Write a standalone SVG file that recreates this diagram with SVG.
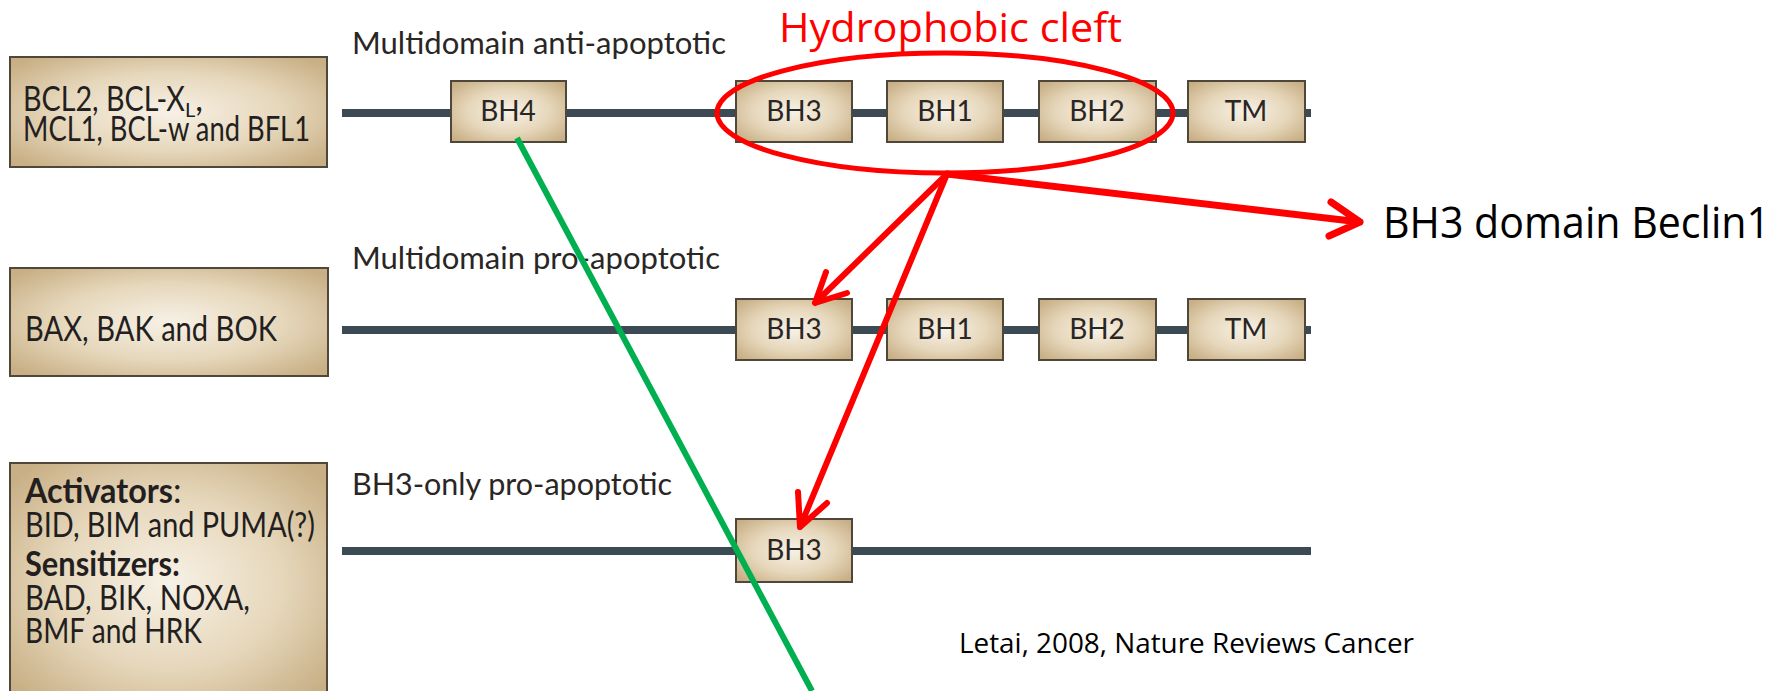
<svg xmlns="http://www.w3.org/2000/svg" width="1790" height="691" viewBox="0 0 1790 691">
<defs>
<radialGradient id="tan" cx="50%" cy="50%" r="65%">
<stop offset="0" stop-color="#f7f1e6"/>
<stop offset="0.55" stop-color="#e6d7bb"/>
<stop offset="1" stop-color="#c8af85"/>
</radialGradient>
</defs>
<style>
.box{fill:url(#tan);stroke:#4f473a;stroke-width:2}
.bb{fill:url(#tan);stroke:#4f473a;stroke-width:2}
.dl{font-family:Lato,"Open Sans",sans-serif;font-size:28px;fill:#2a2624;text-anchor:middle}
.lab{font-family:Lato,"Open Sans",sans-serif;font-size:31px;fill:#2a2624}
.bt{font-family:Lato,"Open Sans",sans-serif;font-size:34px;fill:#231f20}
.chain{stroke:#3c4a54;stroke-width:8;fill:none}
.red{stroke:#ff0000;fill:none;stroke-linecap:round;stroke-linejoin:round}
.cal{font-family:"Open Sans","Noto Sans",sans-serif}
</style>
<rect width="1790" height="691" fill="#ffffff"/>

<g id="row1">
<line class="chain" x1="342" y1="113" x2="1311" y2="113"/>
<text class="lab" x="352" y="54" textLength="374" lengthAdjust="spacingAndGlyphs">Multidomain anti-apoptotic</text>
<g id="r1-bcl2"><rect class="bb" x="10" y="57" width="317" height="110"/>
<text class="bt" x="23" y="111"><tspan textLength="162" lengthAdjust="spacingAndGlyphs">BCL2, BCL-X</tspan><tspan font-size="20" dy="6">L</tspan><tspan dy="-6">,</tspan></text>
<text class="bt" x="23" y="141" textLength="287" lengthAdjust="spacingAndGlyphs">MCL1, BCL-w and BFL1</text></g>
<g id="r1-bh4"><rect class="box" x="451" y="81" width="115" height="61"/><text class="dl" x="508" y="121">BH4</text></g>
<g id="r1-bh3"><rect class="box" x="736" y="81" width="116" height="61"/><text class="dl" x="794" y="121">BH3</text></g>
<g id="r1-bh1"><rect class="box" x="887" y="81" width="116" height="61"/><text class="dl" x="945" y="121">BH1</text></g>
<g id="r1-bh2"><rect class="box" x="1039" y="81" width="117" height="61"/><text class="dl" x="1097" y="121">BH2</text></g>
<g id="r1-tm"><rect class="box" x="1188" y="81" width="117" height="61"/><text class="dl" x="1246" y="121">TM</text></g>
</g>

<g id="row2">
<line class="chain" x1="342" y1="330" x2="1311" y2="330"/>
<text class="lab" x="352" y="269" textLength="368" lengthAdjust="spacingAndGlyphs">Multidomain pro-apoptotic</text>
<g id="r2-bax"><rect class="bb" x="10" y="268" width="318" height="108"/>
<text class="bt" x="25" y="341" textLength="252" lengthAdjust="spacingAndGlyphs">BAX, BAK and BOK</text></g>
<g id="r2-bh3"><rect class="box" x="736" y="299" width="116" height="61"/><text class="dl" x="794" y="339">BH3</text></g>
<g id="r2-bh1"><rect class="box" x="887" y="299" width="116" height="61"/><text class="dl" x="945" y="339">BH1</text></g>
<g id="r2-bh2"><rect class="box" x="1039" y="299" width="117" height="61"/><text class="dl" x="1097" y="339">BH2</text></g>
<g id="r2-tm"><rect class="box" x="1188" y="299" width="117" height="61"/><text class="dl" x="1246" y="339">TM</text></g>
</g>

<g id="row3">
<line class="chain" x1="342" y1="551" x2="1311" y2="551"/>
<text class="lab" x="352" y="495" textLength="320" lengthAdjust="spacingAndGlyphs">BH3-only pro-apoptotic</text>
<g id="r3-bh3only"><rect class="bb" x="10" y="463" width="317" height="240"/>
<text class="bt" x="25" y="503"><tspan font-weight="bold" textLength="148" lengthAdjust="spacingAndGlyphs">Activators</tspan>:</text>
<text class="bt" x="25" y="537" textLength="290" lengthAdjust="spacingAndGlyphs">BID, BIM and PUMA(?)</text>
<text class="bt" x="25" y="576" font-weight="bold" textLength="155" lengthAdjust="spacingAndGlyphs">Sensitizers:</text>
<text class="bt" x="25" y="610" textLength="225" lengthAdjust="spacingAndGlyphs">BAD, BIK, NOXA,</text>
<text class="bt" x="25" y="643" textLength="177" lengthAdjust="spacingAndGlyphs">BMF and HRK</text></g>
<g id="r3-bh3"><rect class="box" x="736" y="519" width="116" height="63"/><text class="dl" x="794" y="560">BH3</text></g>
</g>

<g id="annotations">
<text class="cal" x="779" y="42" font-size="41" fill="#ff0000" textLength="343" lengthAdjust="spacingAndGlyphs">Hydrophobic cleft</text>
<text class="cal" x="1383" y="238" font-size="43" fill="#000000" textLength="387" lengthAdjust="spacingAndGlyphs">BH3 domain Beclin1</text>
<text class="cal" x="959" y="653" font-size="27" fill="#000000" textLength="455" lengthAdjust="spacingAndGlyphs">Letai, 2008, Nature Reviews Cancer</text>
</g>

<g id="connectors">
<line x1="517" y1="138" x2="812" y2="691" stroke="#00b050" stroke-width="6"/>
<ellipse class="red" cx="945" cy="113" rx="228" ry="60" stroke-width="5"/>
<path class="red" stroke-width="7" d="M947,174 L1360,222 M1331,202 L1360,222 L1329,236"/>
<path class="red" stroke-width="6" d="M947,174 L815,303 M826,272 L815,303 L847,293"/>
<path class="red" stroke-width="6" d="M947,174 L800,527 M798,492 L800,527 L827,503"/>
</g>
</svg>
